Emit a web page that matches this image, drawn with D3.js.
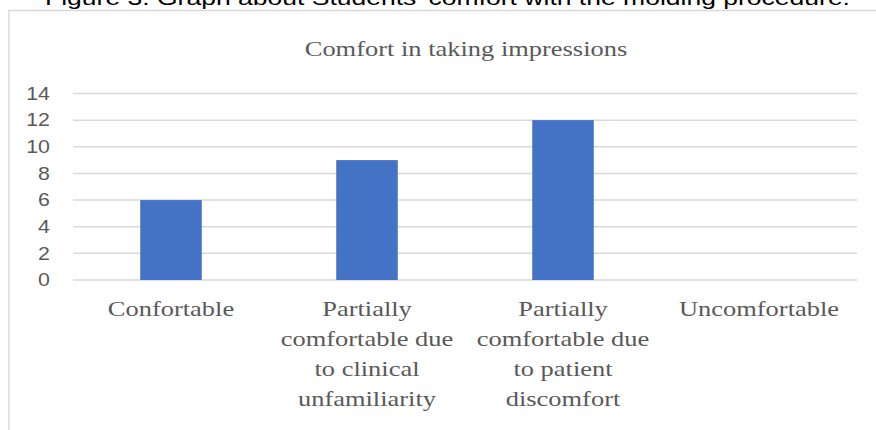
<!DOCTYPE html>
<html>
<head>
<meta charset="utf-8">
<script src="https://cdn.jsdelivr.net/npm/d3@7"></script>
<style>
  html, body { margin: 0; padding: 0; background: #fff; }
  svg { display: block; }
</style>
</head>
<body>
<svg id="chart" width="876" height="430"></svg>
<script>
// Data
const categories = [
  ["Confortable"],
  ["Partially", "comfortable due", "to clinical", "unfamiliarity"],
  ["Partially", "comfortable due", "to patient", "discomfort"],
  ["Uncomfortable"]
];
const values = [6, 9, 12, 0];
const yTicks = [0, 2, 4, 6, 8, 10, 12, 14];
const chartTitle = "Comfort in taking impressions";
const caption = "Figure 3. Graph about Students\u2019 comfort with the molding procedure.";

const W = 876, H = 430;
const margin = { top: 94, right: 19, bottom: 150, left: 73 };
const sx = 1.26;   // horizontal stretch of serif text
const sxNum = 1.22; // horizontal stretch of axis numbers

const svg = d3.select("#chart");

// Caption above the chart frame
svg.append("text")
  .attr("x", 45).attr("y", 5)
  .attr("textLength", 805)
  .attr("lengthAdjust", "spacingAndGlyphs")
  .style("font-family", "'Liberation Sans', Arial, sans-serif")
  .style("font-size", "20px")
  .attr("fill", "#000")
  .text(caption);

// Chart frame (top and left edges visible)
svg.append("path")
  .attr("d", `M9,${H} L9,10.5 L${W},10.5`)
  .attr("fill", "none")
  .attr("stroke", "#d9d9d9")
  .attr("stroke-width", 1.5);

const x = d3.scaleBand()
  .domain(d3.range(categories.length))
  .range([margin.left, W - margin.right])
  .paddingInner(0.686)
  .paddingOuter(0.343);

const y = d3.scaleLinear()
  .domain([0, 14])
  .range([280, 93.5]);

// Gridlines
svg.append("g")
  .selectAll("line")
  .data(yTicks)
  .join("line")
  .attr("x1", margin.left)
  .attr("x2", W - margin.right)
  .attr("y1", d => y(d))
  .attr("y2", d => y(d))
  .attr("stroke", "#d9d9d9")
  .attr("stroke-width", 1.5);

// Y axis labels
const yAxis = d3.axisLeft(y).tickValues(yTicks).tickSize(0).tickPadding(0);
const yg = svg.append("g").attr("transform", "translate(50,0)").call(yAxis);
yg.select(".domain").remove();
yg.selectAll(".tick")
  .attr("transform", d => `translate(0,${y(d)}) scale(${sxNum},1)`);
yg.selectAll(".tick text")
  .attr("x", 0)
  .attr("dy", "0.36em")
  .style("font-family", "'Liberation Sans', Arial, sans-serif")
  .style("font-size", "17.5px")
  .attr("fill", "#595959");

// Bars
svg.append("g")
  .selectAll("rect")
  .data(values)
  .join("rect")
  .attr("x", (d, i) => x(i))
  .attr("width", x.bandwidth())
  .attr("y", d => y(d))
  .attr("height", d => y(0) - y(d))
  .attr("fill", "#4472c4");

// Category labels
const lab = svg.append("g")
  .selectAll("g")
  .data(categories)
  .join("g")
  .attr("transform", (d, i) => `translate(${x(i) + x.bandwidth() / 2},316) scale(${sx},1)`);
lab.each(function(lines) {
  const t = d3.select(this).append("text")
    .attr("text-anchor", "middle")
    .style("font-family", "'Liberation Serif', 'Times New Roman', serif")
    .style("font-size", "21px")
    .attr("fill", "#595959");
  lines.forEach((ln, k) => {
    t.append("tspan").attr("x", 0).attr("y", k * 30).text(ln);
  });
});

// Chart title
svg.append("g")
  .attr("transform", `translate(466,55.5) scale(${sx},1)`)
  .append("text")
  .attr("text-anchor", "middle")
  .style("font-family", "'Liberation Serif', 'Times New Roman', serif")
  .style("font-size", "21px")
  .attr("fill", "#595959")
  .text(chartTitle);
</script>
</body>
</html>
